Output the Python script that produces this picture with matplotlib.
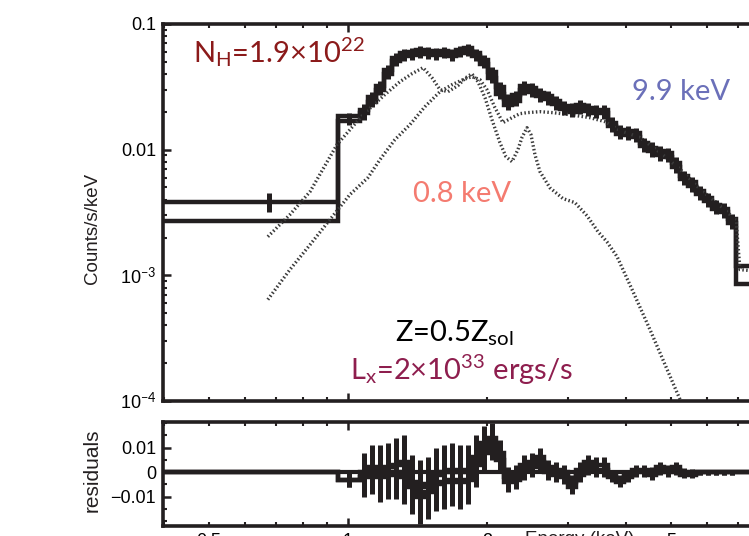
import matplotlib
matplotlib.use('Agg')
import matplotlib.pyplot as plt
import numpy as np
from matplotlib.ticker import LogLocator, FuncFormatter, FixedLocator, MultipleLocator, NullFormatter

plt.rcParams['font.family'] = ['Liberation Sans', 'DejaVu Sans']
plt.rcParams['mathtext.fontset'] = 'custom'
plt.rcParams['mathtext.rm'] = 'Lato'
plt.rcParams['mathtext.it'] = 'Lato:italic'
plt.rcParams['mathtext.bf'] = 'Lato:bold'

# ---------------- data ----------------
# spectral bin edges (keV)
bin_edges = [0.398, 0.951,
             1.062, 1.105, 1.150, 1.196, 1.245, 1.296, 1.349, 1.404, 1.461, 1.520,
             1.582, 1.646, 1.713, 1.783, 1.855, 1.931, 2.009, 2.091, 2.176, 2.265,
             2.357, 2.453, 2.553, 2.657, 2.765, 2.877, 2.994, 3.116, 3.243, 3.375,
             3.513, 3.655, 3.804, 3.959, 4.120, 4.287, 4.462, 4.642, 4.831, 5.028,
             5.232, 5.445, 5.666, 5.897, 6.137, 6.386, 6.646, 6.916,
             10.0]

# counts/s/keV, two detectors
spec_a = [0.00386, 0.01864,
          0.0208, 0.0262, 0.0322, 0.0430, 0.0535, 0.0590, 0.0598, 0.0620, 0.0612, 0.0595,
          0.0608, 0.0588, 0.0620, 0.0645, 0.0590, 0.0520, 0.0415, 0.0318, 0.0255, 0.0270,
          0.0322, 0.0310, 0.0283, 0.0268, 0.0245, 0.0224, 0.0214, 0.0228, 0.0215, 0.0208,
          0.0207, 0.0164, 0.0144, 0.0141, 0.0136, 0.0113, 0.0104, 0.0098, 0.0094, 0.0079,
          0.0062, 0.0055, 0.0047, 0.0041, 0.0036, 0.0034, 0.0028,
          0.00118]
spec_b = [0.00272, 0.01703,
          0.0195, 0.0241, 0.0300, 0.0401, 0.0508, 0.0552, 0.0567, 0.0585, 0.0575, 0.0562,
          0.0578, 0.0556, 0.0590, 0.0608, 0.0555, 0.0482, 0.0372, 0.0278, 0.0226, 0.0245,
          0.0300, 0.0288, 0.0265, 0.0251, 0.0229, 0.0209, 0.0201, 0.0213, 0.0202, 0.0195,
          0.0194, 0.0153, 0.0134, 0.0132, 0.0127, 0.0106, 0.0097, 0.0091, 0.0088, 0.0073,
          0.0058, 0.0051, 0.0044, 0.0039, 0.0034, 0.0032, 0.0026,
          0.00086]
# relative 1-sigma errors
err_a = [0.17, 0.06,
         0.11, 0.10, 0.10, 0.09, 0.09, 0.08, 0.08, 0.08, 0.08, 0.08,
         0.08, 0.08, 0.08, 0.08, 0.08, 0.08, 0.09, 0.09, 0.09, 0.09,
         0.09, 0.09, 0.09, 0.09, 0.09, 0.09, 0.09, 0.09, 0.09, 0.09,
         0.09, 0.10, 0.10, 0.10, 0.10, 0.10, 0.10, 0.10, 0.10, 0.10,
         0.10, 0.10, 0.10, 0.10, 0.10, 0.10, 0.10,
         0.05]
err_b = [0.02, 0.07,
         0.11, 0.10, 0.10, 0.09, 0.09, 0.08, 0.08, 0.08, 0.08, 0.08,
         0.08, 0.08, 0.08, 0.08, 0.08, 0.08, 0.09, 0.09, 0.09, 0.09,
         0.09, 0.09, 0.09, 0.09, 0.09, 0.09, 0.09, 0.09, 0.09, 0.09,
         0.09, 0.10, 0.10, 0.10, 0.10, 0.10, 0.10, 0.10, 0.10, 0.10,
         0.10, 0.10, 0.10, 0.10, 0.10, 0.10, 0.10,
         0.05]

# residuals
resid_a = [0.0, -0.003,
           0.000, 0.002, 0.001, 0.002, 0.003, 0.004, -0.004, -0.006, -0.005, -0.001,
           0.000, 0.001, 0.000, 0.001, 0.006, 0.012, 0.014, 0.008, -0.002, -0.001,
           0.003, 0.004, 0.006, 0.002, 0.001, 0.000, -0.004, 0.001, 0.004, 0.003,
           0.003, -0.001, -0.003, -0.001, 0.001, 0.001, 0.000, 0.002, 0.001, 0.002,
           0.000, 0.000, 0.000, 0.000, 0.000, 0.000, 0.000,
           0.0]
resid_b = [0.0, -0.003,
           -0.002, 0.000, -0.002, -0.001, 0.000, -0.002, -0.006, -0.010, -0.008, -0.005,
           -0.004, -0.003, -0.004, -0.003, 0.003, 0.008, 0.011, 0.005, -0.004, -0.003,
           0.001, 0.002, 0.004, 0.000, -0.001, -0.002, -0.006, -0.001, 0.002, 0.001,
           0.001, -0.002, -0.004, -0.002, 0.000, 0.000, -0.001, 0.001, 0.000, 0.001,
           -0.001, -0.001, 0.000, 0.000, 0.000, 0.000, 0.000,
           0.0]
resid_err = [0.0005, 0.003,
             0.008, 0.009, 0.010, 0.010, 0.011, 0.011, 0.011, 0.011, 0.011, 0.011,
             0.011, 0.011, 0.011, 0.010, 0.009, 0.007, 0.006, 0.005, 0.004, 0.004,
             0.004, 0.004, 0.004, 0.003, 0.003, 0.003, 0.003, 0.003, 0.003, 0.003,
             0.003, 0.002, 0.002, 0.002, 0.002, 0.002, 0.002, 0.002, 0.002, 0.002,
             0.0015, 0.0012, 0.001, 0.001, 0.001, 0.001, 0.001,
             0.0005]

# model components (dotted)
cool_e = [0.671, 0.749, 0.828, 0.947, 1.078, 1.202, 1.296, 1.376, 1.454, 1.520,
          1.582, 1.646, 1.730, 1.800, 1.855, 1.912, 1.980, 2.050, 2.133, 2.198,
          2.265, 2.333, 2.380, 2.441, 2.490, 2.540, 2.604, 2.736, 2.920, 3.100,
          3.292, 3.476, 3.635, 3.823, 4.140, 4.505, 4.855, 5.232]
cool_v = [0.00203, 0.00304, 0.00463, 0.01096, 0.01899, 0.02739, 0.03475, 0.04023, 0.04492, 0.03740,
          0.03002, 0.02894, 0.03229, 0.03740, 0.04023, 0.03475, 0.02593, 0.01733, 0.01137, 0.00880,
          0.00803, 0.01000, 0.01246, 0.01496, 0.01316, 0.00912, 0.00668, 0.00498, 0.00408, 0.00379,
          0.00298, 0.00223, 0.00185, 0.00141, 0.000742, 0.000370, 0.000195, 0.000103]
hot_e = [0.671, 0.749, 0.828, 0.914, 1.010, 1.105, 1.173, 1.264, 1.362, 1.468,
         1.582, 1.680, 1.774, 1.855, 1.931, 2.000, 2.081, 2.165, 2.265, 2.357,
         2.441, 2.604, 2.777, 3.024, 3.341, 3.599, 3.880, 4.286, 4.735, 5.232,
         5.781, 6.386, 6.916, 7.055, 9.5]
hot_v = [0.000641, 0.00111, 0.00175, 0.00277, 0.00439, 0.00599, 0.00833, 0.01201, 0.01581, 0.02198,
         0.02894, 0.03289, 0.03605, 0.03808, 0.03605, 0.03002, 0.02159, 0.01640, 0.01797, 0.01934,
         0.01970, 0.02006, 0.01970, 0.01899, 0.01797, 0.01670, 0.01420, 0.01250, 0.00950, 0.00700,
         0.00485, 0.00360, 0.00275, 0.00111, 0.00101]

x_tick_labels = {0.5: '0.5', 1.0: '1', 2.0: '2', 5.0: '5'}
y_tick_labels = {0.1: '0.1', 0.01: '0.01', 0.001: '10$^{-3}$', 0.0001: '10$^{-4}$'}
r_tick_labels = {0.01: '0.01', 0.0: '0', -0.01: '\u22120.01'}

# ---------------- figure ----------------
W, H = 749, 536
fig = plt.figure(figsize=(W / 100, H / 100), dpi=100)

def fx(px):
    return px / W

def fy(py):
    return 1 - py / H

ink = '#231f20'
left_px, right_px = 163, 810
ax = fig.add_axes([fx(left_px), fy(401), fx(right_px - left_px), (401 - 24) / H])
axr = fig.add_axes([fx(left_px), fy(526), fx(right_px - left_px), (526 - 422) / H])

edges = np.array(bin_edges)
centers = 0.5 * (edges[:-1] + edges[1:])

dot_style = dict(color='#3a3a3a', lw=2.4, ls=(0, (0.45, 0.7)), solid_capstyle='butt')
ax.plot(cool_e, cool_v, **dot_style)
ax.plot(hot_e, hot_v, **dot_style)

for vals, errs in ((spec_a, err_a), (spec_b, err_b)):
    v = np.array(vals)
    e = np.array(errs) * v
    ax.stairs(v, edges, baseline=None, color=ink, lw=3.2)
    ax.errorbar(centers, v, yerr=e, fmt='none', ecolor=ink, elinewidth=3.6, capsize=0)

ax.set_xscale('log')
ax.set_yscale('log')
ax.set_xlim(0.398, 10)
ax.set_ylim(1e-4, 0.1)

for a in (ax, axr):
    a.set_xscale('log')
    a.set_xlim(0.398, 10)
    for s in a.spines.values():
        s.set_linewidth(2.6)
        s.set_color(ink)
    a.tick_params(which='both', direction='in', top=True, right=True, color=ink)
    a.tick_params(which='major', length=6, width=1.8)
    a.tick_params(which='minor', length=3, width=1.5)
    a.xaxis.set_major_locator(LogLocator(base=10))
    a.xaxis.set_minor_locator(LogLocator(base=10, subs=np.arange(2, 10)))

ax.xaxis.set_major_formatter(NullFormatter())
ax.xaxis.set_minor_formatter(NullFormatter())
ax.yaxis.set_major_locator(FixedLocator(list(y_tick_labels.keys())))
ax.yaxis.set_minor_locator(LogLocator(base=10, subs=np.arange(2, 10)))
ax.yaxis.set_major_formatter(FuncFormatter(lambda v, p: y_tick_labels.get(float('%.4g' % v), '')))
ax.yaxis.set_minor_formatter(NullFormatter())
ax.tick_params(axis='y', labelsize=13, pad=5)

# residuals
axr.axhline(0, color=ink, lw=3.0)
ra = np.array(resid_a)
rb = np.array(resid_b)
re = np.array(resid_err)
for r in (ra, rb):
    axr.stairs(r, edges, baseline=None, color=ink, lw=3.2)
    axr.errorbar(centers, r, yerr=re, fmt='none', ecolor=ink, elinewidth=3.6, capsize=0)
axr.set_ylim(-0.022, 0.0205)
axr.yaxis.set_major_locator(FixedLocator(list(r_tick_labels.keys())))
axr.yaxis.set_minor_locator(MultipleLocator(0.005))
axr.yaxis.set_major_formatter(FuncFormatter(lambda v, p: r_tick_labels.get(round(v, 4), '')))
xfmt = FuncFormatter(lambda v, p: x_tick_labels.get(round(v, 3), ''))
axr.xaxis.set_major_formatter(xfmt)
axr.xaxis.set_minor_formatter(xfmt)
axr.tick_params(axis='y', labelsize=13, pad=5)
axr.tick_params(axis='x', which='both', labelsize=13, pad=5)

# axis titles
fig.text(fx(92), fy(228), 'Counts/s/keV', rotation=90, ha='center', va='center', fontsize=13.5, color=ink)
fig.text(fx(92), fy(470), 'residuals', rotation=90, ha='center', va='center', fontsize=15, color=ink)
fig.text(fx(580), fy(531), 'Energy (keV)', ha='center', va='top', fontsize=13.5, color=ink)

# annotations
ann = dict(family=['Lato', 'DejaVu Sans'], fontsize=21, ha='left', va='baseline')
fig.text(fx(193), fy(62), 'N$_{\\rm H}$=1.9\u00d710$^{22}$', color='#8b1a1a', **ann)
fig.text(fx(632), fy(100), '9.9 keV', color='#6b70b9', **ann)
fig.text(fx(413), fy(202), '0.8 keV', color='#f47b70', **ann)
fig.text(fx(395), fy(342), 'Z=0.5Z$_{\\rm sol}$', color='black', **ann)
fig.text(fx(350), fy(380), 'L$_{\\rm x}$=2\u00d710$^{33}$ ergs/s', color='#8e1e4e', **ann)

fig.savefig('out.png', dpi=100)
